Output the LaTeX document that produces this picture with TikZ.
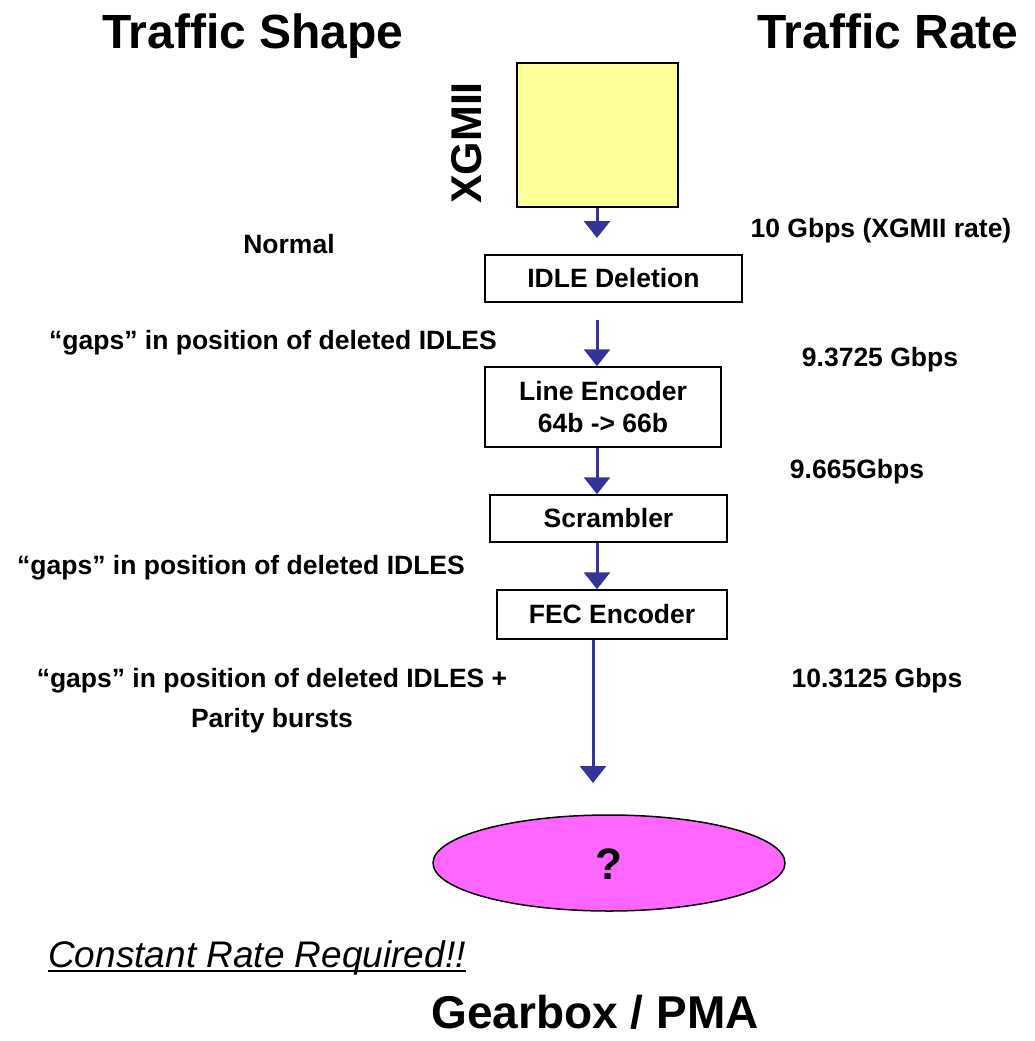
\documentclass[tikz,border=0pt]{standalone}
\usepackage{fontspec}
\setmainfont{Liberation Sans}
\usetikzlibrary{arrows.meta,shapes.geometric}

\definecolor{flowblue}{HTML}{333399}
\definecolor{xgmiiyellow}{HTML}{FFFF99}
\definecolor{pmapink}{HTML}{FF66FF}

\tikzset{
  stage/.style={draw=black,line width=1.5pt,fill=white,inner sep=0pt,align=center,
    font=\fontsize{26.5}{32}\selectfont\bfseries},
  note/.style={inner sep=0pt,text height=19pt,text depth=0pt,
    font=\fontsize{26.5}{32}\selectfont\bfseries},
  title/.style={inner sep=0pt,text height=34.5pt,text depth=0pt,
    font=\fontsize{48}{52}\selectfont\bfseries},
  flow/.style={draw=flowblue,line width=3pt,-{Triangle[width=26pt,length=17pt]}},
}

\begin{document}
\begin{tikzpicture}[x=1pt,y=-1pt]
\useasboundingbox (0,0) rectangle (1034,1041);

\node[title] (shape) at (253,31) {Traffic Shape};
\node[title] (rate) at (888,31) {Traffic Rate};

% the chain of blocks
\node[draw=black,line width=1.5pt,fill=xgmiiyellow,minimum width=161pt,minimum height=144pt] (xgmii) at (597.5,135) {};
\node[title,font=\fontsize{43}{46}\selectfont\bfseries,text height=31pt,rotate=90] (xgmiilbl) at (466,143) {XGMII};

\node[stage,minimum width=257pt,minimum height=47pt] (idle) at (613.5,278.5) {IDLE Deletion};
\node[stage,minimum width=236pt,minimum height=80pt] (enc) at (603,407) {Line Encoder\\64b -> 66b};
\node[stage,minimum width=237pt,minimum height=47pt] (scr) at (608.5,518.5) {Scrambler};
\node[stage,minimum width=230pt,minimum height=49pt] (fec) at (612,614.5) {FEC Encoder};

\node[ellipse,draw=black,line width=1.5pt,fill=pmapink,minimum width=352pt,minimum height=96pt,
  inner sep=0pt,text height=32pt,text depth=0pt,font=\fontsize{44}{48}\selectfont\bfseries] (pma) at (609,863) {?};

\coordinate (spine) at (597,0);
\coordinate (spine2) at (593,0);
\coordinate (tip1) at (597,238);
\coordinate (tail2) at (597,320);
\coordinate (tip5) at (593,783);

\draw[flow] (xgmii.south -| spine) -- (tip1);
\draw[flow] (tail2) -- (enc.north -| spine);
\draw[flow] (enc.south -| spine) -- (scr.north -| spine);
\draw[flow] (scr.south -| spine) -- (fec.north -| spine);
\draw[flow] (fec.south -| spine2) -- (tip5);

% traffic shape side
\node[note] (normal) at (289,244) {Normal};
\node[note] (gaps1) at (273,340) {“gaps” in position of deleted IDLES};
\node[note] (gaps2) at (241,565) {“gaps” in position of deleted IDLES};
\node[note] (gaps3) at (272,678) {“gaps” in position of deleted IDLES +};
\node[note] (parity) at (272,718) {Parity bursts};

% traffic rate side
\node[note] (r1) at (881,228) {10 Gbps (XGMII rate)};
\node[note] (r2) at (880,357) {9.3725 Gbps};
\node[note] (r3) at (857,469) {9.665Gbps};
\node[note] (r4) at (877,678) {10.3125 Gbps};

\node[inner sep=0pt,anchor=base,font=\fontsize{37}{40}\selectfont\itshape] (const) at (257,967) {Constant Rate Required!!};
\draw[line width=2.5pt] ([yshift=-4pt]const.base west) -- ([yshift=-4pt]const.base east);
\node[title,font=\fontsize{46}{50}\selectfont\bfseries,text height=33pt] (gearbox) at (595,1012) {Gearbox / PMA};

\end{tikzpicture}
\end{document}
